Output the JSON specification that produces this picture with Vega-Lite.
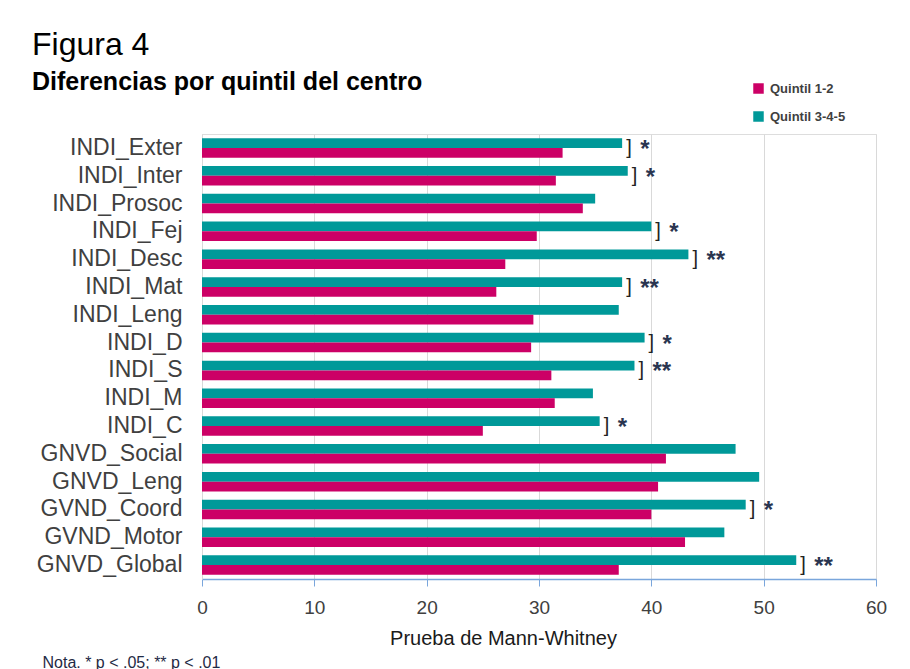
{
  "$schema": "https://vega.github.io/schema/vega-lite/v6.json",
  "width": 674,
  "height": 445,
  "autosize": {"type": "none"},
  "padding": {"left": 202, "top": 134, "right": 34, "bottom": 90},
  "background": "white",
  "title": {
    "text": "Figura 4",
    "subtitle": "Diferencias por quintil del centro",
    "anchor": "start",
    "frame": "group",
    "dx": -170,
    "offset": -14,
    "font": "Liberation Sans",
    "fontSize": 32,
    "fontWeight": "normal",
    "color": "#000000",
    "subtitleFont": "Liberation Sans",
    "subtitleFontSize": 25,
    "subtitleFontWeight": "bold",
    "subtitleColor": "#000000",
    "subtitlePadding": 8
  },
  "datasets": {
    "bars": [
      {"cat": "INDI_Exter", "grupo": "Quintil 3-4-5", "valor": 37.4},
      {"cat": "INDI_Exter", "grupo": "Quintil 1-2", "valor": 32.1},
      {"cat": "INDI_Inter", "grupo": "Quintil 3-4-5", "valor": 37.9},
      {"cat": "INDI_Inter", "grupo": "Quintil 1-2", "valor": 31.5},
      {"cat": "INDI_Prosoc", "grupo": "Quintil 3-4-5", "valor": 35.0},
      {"cat": "INDI_Prosoc", "grupo": "Quintil 1-2", "valor": 33.9},
      {"cat": "INDI_Fej", "grupo": "Quintil 3-4-5", "valor": 40.0},
      {"cat": "INDI_Fej", "grupo": "Quintil 1-2", "valor": 29.8},
      {"cat": "INDI_Desc", "grupo": "Quintil 3-4-5", "valor": 43.3},
      {"cat": "INDI_Desc", "grupo": "Quintil 1-2", "valor": 27.0},
      {"cat": "INDI_Mat", "grupo": "Quintil 3-4-5", "valor": 37.4},
      {"cat": "INDI_Mat", "grupo": "Quintil 1-2", "valor": 26.2},
      {"cat": "INDI_Leng", "grupo": "Quintil 3-4-5", "valor": 37.1},
      {"cat": "INDI_Leng", "grupo": "Quintil 1-2", "valor": 29.5},
      {"cat": "INDI_D", "grupo": "Quintil 3-4-5", "valor": 39.4},
      {"cat": "INDI_D", "grupo": "Quintil 1-2", "valor": 29.3},
      {"cat": "INDI_S", "grupo": "Quintil 3-4-5", "valor": 38.5},
      {"cat": "INDI_S", "grupo": "Quintil 1-2", "valor": 31.1},
      {"cat": "INDI_M", "grupo": "Quintil 3-4-5", "valor": 34.8},
      {"cat": "INDI_M", "grupo": "Quintil 1-2", "valor": 31.4},
      {"cat": "INDI_C", "grupo": "Quintil 3-4-5", "valor": 35.4},
      {"cat": "INDI_C", "grupo": "Quintil 1-2", "valor": 25.0},
      {"cat": "GNVD_Social", "grupo": "Quintil 3-4-5", "valor": 47.5},
      {"cat": "GNVD_Social", "grupo": "Quintil 1-2", "valor": 41.3},
      {"cat": "GNVD_Leng", "grupo": "Quintil 3-4-5", "valor": 49.6},
      {"cat": "GNVD_Leng", "grupo": "Quintil 1-2", "valor": 40.6},
      {"cat": "GVND_Coord", "grupo": "Quintil 3-4-5", "valor": 48.4},
      {"cat": "GVND_Coord", "grupo": "Quintil 1-2", "valor": 40.0},
      {"cat": "GVND_Motor", "grupo": "Quintil 3-4-5", "valor": 46.5},
      {"cat": "GVND_Motor", "grupo": "Quintil 1-2", "valor": 43.0},
      {"cat": "GNVD_Global", "grupo": "Quintil 3-4-5", "valor": 52.9},
      {"cat": "GNVD_Global", "grupo": "Quintil 1-2", "valor": 37.1}
    ],
    "sig": [
      {"cat": "INDI_Exter", "teal": 37.4, "sig": "*"},
      {"cat": "INDI_Inter", "teal": 37.9, "sig": "*"},
      {"cat": "INDI_Fej", "teal": 40.0, "sig": "*"},
      {"cat": "INDI_Desc", "teal": 43.3, "sig": "**"},
      {"cat": "INDI_Mat", "teal": 37.4, "sig": "**"},
      {"cat": "INDI_D", "teal": 39.4, "sig": "*"},
      {"cat": "INDI_S", "teal": 38.5, "sig": "**"},
      {"cat": "INDI_C", "teal": 35.4, "sig": "*"},
      {"cat": "GVND_Coord", "teal": 48.4, "sig": "*"},
      {"cat": "GNVD_Global", "teal": 52.9, "sig": "**"}
    ]
  },
  "layer": [
    {
      "data": {"name": "bars"},
      "mark": {"type": "bar"},
      "encoding": {
        "y": {
          "field": "cat",
          "type": "nominal",
          "sort": ["INDI_Exter", "INDI_Inter", "INDI_Prosoc", "INDI_Fej", "INDI_Desc", "INDI_Mat", "INDI_Leng", "INDI_D", "INDI_S", "INDI_M", "INDI_C", "GNVD_Social", "GNVD_Leng", "GVND_Coord", "GVND_Motor", "GNVD_Global"],
          "scale": {"paddingInner": 0.3, "paddingOuter": 0.15},
          "axis": {
            "title": "Nota. * p < .05; **  p < .01",
            "titleAngle": 0,
            "titleX": -160,
            "titleY": 533,
            "titleAlign": "left",
            "titleBaseline": "alphabetic",
            "titleFont": "Liberation Sans",
            "titleFontSize": 16,
            "titleFontWeight": "normal",
            "titleColor": "#1f2a44",
            "labelFont": "Liberation Sans",
            "labelFontSize": 23,
            "labelColor": "#404040",
            "labelPadding": 20,
            "ticks": false,
            "domainColor": "#d9d9d9",
            "grid": false
          }
        },
        "x": {
          "field": "valor",
          "type": "quantitative",
          "scale": {"domain": [0, 60]},
          "axis": {
            "title": "Prueba de Mann-Whitney",
            "titleX": 301,
            "titleFont": "Liberation Sans",
            "titleFontSize": 20,
            "titleFontWeight": "normal",
            "titleColor": "#1a1a1a",
            "titlePadding": 11,
            "labelFont": "Liberation Sans",
            "labelFontSize": 19,
            "labelColor": "#404040",
            "labelPadding": 12,
            "labelFlush": false,
            "values": [0, 10, 20, 30, 40, 50, 60],
            "tickSize": 7,
            "tickColor": "#7aa6dc",
            "domainColor": "#7aa6dc",
            "domainWidth": 1.5,
            "grid": true,
            "gridColor": "#d9d9d9"
          }
        },
        "yOffset": {"field": "grupo", "scale": {"domain": ["Quintil 3-4-5", "Quintil 1-2"]}},
        "color": {
          "field": "grupo",
          "type": "nominal",
          "scale": {"domain": ["Quintil 1-2", "Quintil 3-4-5"], "range": ["#cc0066", "#009999"]},
          "legend": {
            "orient": "none",
            "legendX": 550,
            "legendY": -52,
            "title": null,
            "symbolType": "square",
            "symbolSize": 110,
            "symbolStrokeWidth": 0,
            "labelFont": "Liberation Sans",
            "labelFontSize": 13,
            "labelFontWeight": "bold",
            "labelColor": "#404040",
            "labelOffset": 5,
            "rowPadding": 14
          }
        }
      }
    },
    {
      "data": {"name": "sig"},
      "mark": {"type": "text", "text": "]", "align": "left", "baseline": "middle", "dx": 4, "dy": 0, "font": "Liberation Sans", "fontSize": 20, "color": "#222222"},
      "encoding": {
        "y": {"field": "cat", "type": "nominal", "sort": ["INDI_Exter", "INDI_Inter", "INDI_Prosoc", "INDI_Fej", "INDI_Desc", "INDI_Mat", "INDI_Leng", "INDI_D", "INDI_S", "INDI_M", "INDI_C", "GNVD_Social", "GNVD_Leng", "GVND_Coord", "GVND_Motor", "GNVD_Global"]},
        "x": {"field": "teal", "type": "quantitative"}
      }
    },
    {
      "data": {"name": "sig"},
      "mark": {"type": "text", "align": "left", "baseline": "middle", "dx": 18, "dy": 2, "font": "Liberation Sans", "fontSize": 24, "fontWeight": "bold", "color": "#2a3550"},
      "encoding": {
        "y": {"field": "cat", "type": "nominal", "sort": ["INDI_Exter", "INDI_Inter", "INDI_Prosoc", "INDI_Fej", "INDI_Desc", "INDI_Mat", "INDI_Leng", "INDI_D", "INDI_S", "INDI_M", "INDI_C", "GNVD_Social", "GNVD_Leng", "GVND_Coord", "GVND_Motor", "GNVD_Global"]},
        "x": {"field": "teal", "type": "quantitative"},
        "text": {"field": "sig"}
      }
    }
  ]
}
